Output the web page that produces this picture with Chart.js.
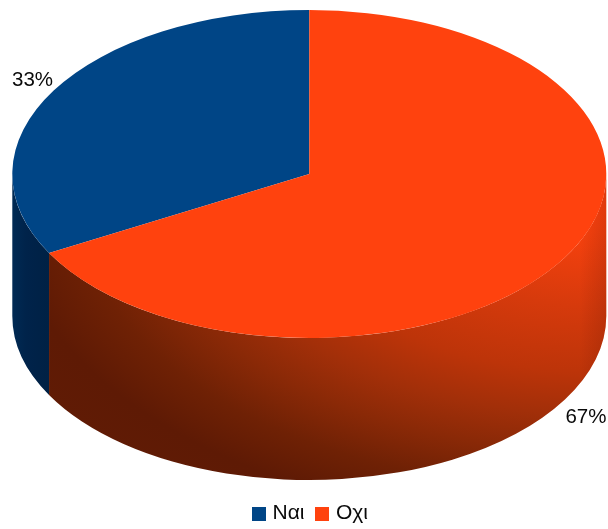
<!DOCTYPE html>
<html lang="el">
<head>
<meta charset="utf-8">
<title>Ναι / Οχι</title>
<style>
  html, body { margin: 0; padding: 0; background: #fff; }
  canvas { display: block; }
</style>
<script src="https://cdn.jsdelivr.net/npm/chart.js@4"></script>
</head>
<body>
<canvas id="pie" width="608" height="529"></canvas>
<script>
const categories = ['Ναι', 'Οχι'];
const shares = [33, 67];
const sliceColours = ['#004586', '#ff420e'];

// Geometry of the tilted disc on the page.
const disc = { cx: 309.3, cy: 174, rx: 297, ry: 164, depth: 142 };
const labelAnchors = [
  { x: 12, y: 86, align: 'left' },
  { x: 606.5, y: 423, align: 'right' }
];
const FONT = '"Liberation Sans", Arial, sans-serif';

// Square legend swatch painted on a small canvas and used as a point style.
function swatch(colour) {
  const c = document.createElement('canvas');
  c.width = 14; c.height = 14;
  const g = c.getContext('2d');
  g.fillStyle = colour;
  g.fillRect(0, 0, 14, 14);
  return c;
}

// Traces the visible (front) part of the rim between two angles.
function wallPath(ctx, from, to) {
  ctx.beginPath();
  ctx.ellipse(disc.cx, disc.cy, disc.rx, disc.ry, 0, from, to, false);
  ctx.ellipse(disc.cx, disc.cy + disc.depth, disc.rx, disc.ry, 0, to, from, true);
  ctx.closePath();
}

// Front-facing portions of an arc, i.e. its overlap with 0..PI modulo a full turn.
function frontRanges(start, end) {
  const out = [];
  for (let k = -1; k <= 1; k++) {
    const a = Math.max(start, k * 2 * Math.PI);
    const b = Math.min(end, k * 2 * Math.PI + Math.PI);
    if (b > a) out.push([a, b]);
  }
  return out;
}

function paintOrangeWall(ctx) {
  ctx.save();
  ctx.translate(592, 205);
  ctx.scale(0.9, 0.5);
  const g = ctx.createRadialGradient(0, 0, 0, 0, 0, 720);
  g.addColorStop(0, '#ff420e');
  g.addColorStop(0.08, '#f6410e');
  g.addColorStop(0.28, '#d63a0c');
  g.addColorStop(0.46, '#bd3409');
  g.addColorStop(0.58, '#a22f09');
  g.addColorStop(0.68, '#8a2907');
  g.addColorStop(0.79, '#6f2105');
  g.addColorStop(0.9, '#5e1a05');
  g.addColorStop(1, '#601b05');
  ctx.fillStyle = g;
  ctx.fillRect(-800, -800, 1600, 2400);
  ctx.restore();
  const edge = ctx.createLinearGradient(580, 0, 608, 0);
  edge.addColorStop(0, 'rgba(60,10,0,0)');
  edge.addColorStop(1, 'rgba(60,10,0,0.16)');
  ctx.fillStyle = edge;
  ctx.fillRect(580, 0, 30, 529);
}

function paintBlueWall(ctx) {
  const g = ctx.createLinearGradient(12, 0, 48, 0);
  g.addColorStop(0, '#002a54');
  g.addColorStop(0.4, '#00234a');
  g.addColorStop(1, '#002145');
  ctx.fillStyle = g;
  ctx.fillRect(0, 0, 60, 529);
}

// Draws the rim under the slices and squeezes the round pie into the tilted disc.
const tiltedDisc = {
  id: 'tiltedDisc',
  beforeDatasetsDraw(chart) {
    const ctx = chart.ctx;
    const arcs = chart.getDatasetMeta(0).data;
    arcs.forEach((arc, i) => {
      frontRanges(arc.startAngle, arc.endAngle).forEach(([a, b]) => {
        ctx.save();
        wallPath(ctx, a, b);
        ctx.clip();
        if (i === 0) paintBlueWall(ctx); else paintOrangeWall(ctx);
        ctx.restore();
      });
    });
    const ref = arcs[0];
    ctx.save();
    ctx.translate(disc.cx, disc.cy);
    ctx.scale(disc.rx / ref.outerRadius, disc.ry / ref.outerRadius);
    ctx.translate(-ref.x, -ref.y);
  },
  afterDatasetsDraw(chart) {
    chart.ctx.restore();
  },
  afterDraw(chart) {
    const ctx = chart.ctx;
    ctx.save();
    ctx.font = '20.5px ' + FONT;
    ctx.fillStyle = '#0a0a0a';
    ctx.textBaseline = 'alphabetic';
    shares.forEach((v, i) => {
      ctx.textAlign = labelAnchors[i].align;
      ctx.fillText(v + '%', labelAnchors[i].x, labelAnchors[i].y);
    });
    ctx.restore();
  }
};

new Chart(document.getElementById('pie'), {
  type: 'pie',
  data: {
    labels: categories,
    datasets: [{
      data: shares,
      backgroundColor: sliceColours,
      borderWidth: 0,
      clip: false
    }]
  },
  options: {
    responsive: false,
    animation: false,
    rotation: -shares[0] / (shares[0] + shares[1]) * 360,
    layout: { padding: { top: 10, bottom: -5, left: 16, right: 0 } },
    events: [],
    plugins: {
      tooltip: { enabled: false },
      legend: {
        position: 'bottom',
        labels: {
          color: '#0a0a0a',
          font: { family: FONT, size: 21 },
          usePointStyle: true,
          boxWidth: 6,
          padding: 15,
          generateLabels(chart) {
            return Chart.overrides.pie.plugins.legend.labels.generateLabels(chart).map((item, i) => {
              item.pointStyle = swatch(sliceColours[i]);
              return item;
            });
          }
        }
      }
    }
  },
  plugins: [tiltedDisc]
});
</script>
</body>
</html>
